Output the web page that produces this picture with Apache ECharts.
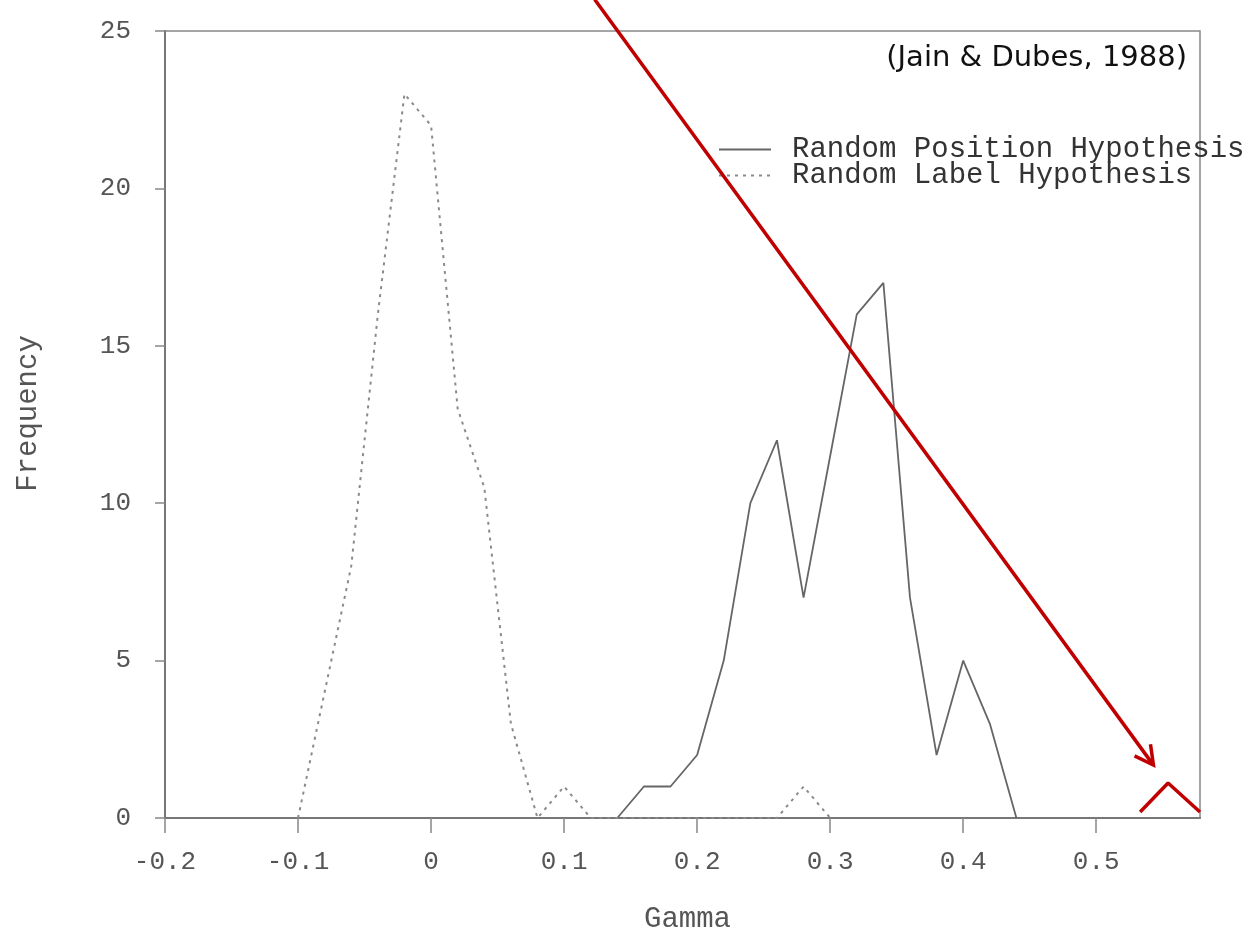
<!DOCTYPE html>
<html>
<head>
<meta charset="utf-8">
<title>Gamma</title>
<script src="https://cdn.jsdelivr.net/npm/echarts@6/dist/echarts.min.js"></script>
<style>
	html, body { margin: 0; padding: 0; background: #fff; }
	#main { width: 1251px; height: 933px; }
</style>
</head>
<body>
<div id="main"></div>
<script>
// Random Position Hypothesis (solid)
var gammaPos = [0.14, 0.16, 0.18, 0.20, 0.22, 0.24, 0.26, 0.28, 0.30, 0.32, 0.34, 0.36, 0.38, 0.40, 0.42, 0.44];
var freqPos  = [0, 1, 1, 2, 5, 10, 12, 7, 11.5, 16, 17, 7, 2, 5, 3, 0];

// Random Label Hypothesis (dotted)
var gammaLab = [-0.10, -0.08, -0.06, -0.04, -0.02, 0, 0.02, 0.04, 0.06, 0.08, 0.10, 0.12, 0.14, 0.16, 0.18, 0.20, 0.22, 0.24, 0.26, 0.28, 0.30];
var freqLab  = [0, 4, 8, 16, 23, 22, 13, 10.5, 3, 0, 1, 0, 0, 0, 0, 0, 0, 0, 0, 1, 0];

// red annotation: small peak and the arrow pointing at it
var markGamma = [0.533, 0.554, 0.578];
var markFreq  = [0.19, 1.11, 0.19];
var arrowFrom = [0.123, 26.0];
var arrowTip  = [0.543, 1.68];

var seriesNames = ['Random Position Hypothesis', 'Random Label Hypothesis'];

function zip(xs, ys) {
	return xs.map(function (x, i) { return [x, ys[i]]; });
}

var mono = 'Liberation Mono';
var red = '#c00000';

var myChart = echarts.init(document.getElementById('main'));

var option = {
	backgroundColor: '#fff',
	animation: false,
	title: {
		text: '(Jain & Dubes, 1988)',
		right: 64,
		top: 44,
		padding: 0,
		textStyle: {
			fontFamily: 'DejaVu Sans',
			fontSize: 29,
			fontWeight: 'normal',
			color: '#111'
		}
	},
	legend: {
		data: seriesNames,
		orient: 'vertical',
		left: 718,
		top: 135,
		padding: 0,
		itemGap: -3,
		itemWidth: 52,
		itemHeight: 14,
		itemStyle: { color: 'transparent', borderWidth: 0 },
		textStyle: {
			fontFamily: mono,
			fontSize: 29,
			lineHeight: 26,
			color: '#333',
			padding: [0, 0, 0, 16]
		}
	},
	grid: {
		left: 165,
		top: 31,
		right: 51,
		bottom: 115,
		show: true,
		borderColor: '#888',
		borderWidth: 1.5,
		containLabel: false,
		outerBoundsMode: 'none'
	},
	xAxis: {
		type: 'value',
		min: -0.2,
		max: 0.578,
		interval: 0.1,
		name: 'Gamma',
		nameLocation: 'middle',
		nameGap: 87,
		nameTextStyle: { fontFamily: mono, fontSize: 29, color: '#555', padding: [0, 0, 0, 10] },
		axisLine: { onZero: false, lineStyle: { color: '#777', width: 2 } },
		axisTick: { length: 15, lineStyle: { color: '#888', width: 1.5 } },
		axisLabel: {
			margin: 31,
			fontFamily: mono,
			fontSize: 26,
			color: '#555',
			showMaxLabel: false,
			formatter: function (v) {
				var r = Math.round(v * 10) / 10;
				return r === 0 ? '0' : r.toFixed(1);
			}
		},
		splitLine: { show: false }
	},
	yAxis: {
		type: 'value',
		min: 0,
		max: 25,
		interval: 5,
		name: 'Frequency',
		nameLocation: 'middle',
		nameGap: 122,
		nameTextStyle: { fontFamily: mono, fontSize: 29, color: '#555', padding: [0, 0, 0, 22] },
		axisLine: { show: true, onZero: false, lineStyle: { color: '#777', width: 2 } },
		axisTick: { show: true, length: 10, lineStyle: { color: '#888', width: 1.5 } },
		axisLabel: { margin: 34, fontFamily: mono, fontSize: 26, color: '#555' },
		splitLine: { show: false }
	},
	series: [
		{
			name: seriesNames[0],
			type: 'line',
			data: zip(gammaPos, freqPos),
			symbol: 'none',
			lineStyle: { color: '#666', width: 1.8, type: 'solid' },
			itemStyle: { color: '#666' }
		},
		{
			name: seriesNames[1],
			type: 'line',
			data: zip(gammaLab, freqLab),
			symbol: 'none',
			lineStyle: { color: '#8a8a8a', width: 2, type: [3, 5] },
			itemStyle: { color: '#8a8a8a' }
		},
		{
			name: 'mark',
			type: 'line',
			data: zip(markGamma, markFreq),
			symbol: 'none',
			clip: false,
			silent: true,
			lineStyle: { color: red, width: 3.5 }
		}
	]
};

myChart.setOption(option);

// arrow drawn from data coords converted to pixels
var p1 = myChart.convertToPixel({ gridIndex: 0 }, arrowFrom);
var p2 = myChart.convertToPixel({ gridIndex: 0 }, arrowTip);
var back = Math.atan2(p1[1] - p2[1], p1[0] - p2[0]);
var armLen = 21, armAng = 28 * Math.PI / 180;
function arm(sign) {
	return [p2[0] + armLen * Math.cos(back + sign * armAng), p2[1] + armLen * Math.sin(back + sign * armAng)];
}

myChart.setOption({
	graphic: [
		{
			type: 'line',
			shape: { x1: p1[0], y1: p1[1], x2: p2[0], y2: p2[1] },
			style: { stroke: red, lineWidth: 3.5 },
			silent: true,
			z: 100
		},
		{
			type: 'polyline',
			shape: { points: [arm(1), p2, arm(-1)] },
			style: { stroke: red, lineWidth: 3.5, fill: null, lineJoin: 'miter' },
			silent: true,
			z: 100
		}
	]
});
</script>
</body>
</html>
